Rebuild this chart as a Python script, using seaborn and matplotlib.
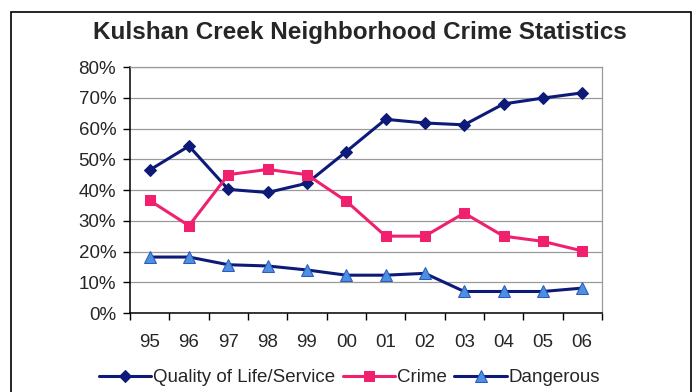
import matplotlib
matplotlib.use("Agg")
import matplotlib.pyplot as plt
import seaborn as sns
import pandas as pd
from matplotlib.patches import Rectangle
from matplotlib.ticker import FixedLocator, PercentFormatter

years = ["95", "96", "97", "98", "99", "00", "01", "02", "03", "04", "05", "06"]
quality = [46.5, 54.3, 40.2, 39.2, 42.2, 52.5, 63.0, 61.8, 61.2, 68.0, 69.9, 71.6]
crime = [36.6, 28.4, 45.0, 46.7, 45.0, 36.4, 25.0, 25.0, 32.5, 25.0, 23.3, 20.2]
dangerous = [18.2, 18.2, 15.7, 15.3, 14.0, 12.3, 12.3, 12.9, 7.0, 7.0, 7.0, 8.1]
series_names = ["Quality of Life/Service", "Crime", "Dangerous"]
title = "Kulshan Creek Neighborhood Crime Statistics"

df = pd.DataFrame({
    "year": years * 3,
    "value": quality + crime + dangerous,
    "series": [series_names[0]] * 12 + [series_names[1]] * 12 + [series_names[2]] * 12,
})

sns.set_style("white")
plt.rcParams["font.family"] = ["Liberation Sans", "DejaVu Sans"]

fig = plt.figure(figsize=(6.99, 3.92), dpi=100)
ax = fig.add_axes([0.186, 0.2015, 0.675, 0.6275])

navy = "#0d1a78"
pink = "#f0206e"
lightblue = "#4d8fe0"

styles = {
    series_names[0]: dict(color=navy, marker="D", mfc=navy, mec=navy, ms=6),
    series_names[1]: dict(color=pink, marker="s", mfc=pink, mec=pink, ms=7),
    series_names[2]: dict(color=navy, marker="^", mfc=lightblue, mec="#2a5bc0", ms=8),
}

for name in series_names:
    st = styles[name]
    sub = df[df["series"] == name]
    sns.lineplot(data=sub, x="year", y="value", ax=ax, color=st["color"],
                 marker=st["marker"], markerfacecolor=st["mfc"],
                 markeredgecolor=st["mec"], markersize=st["ms"],
                 linewidth=2.2, label=name, sort=False)

ax.set_xlim(-0.5, len(years) - 0.5)
ax.set_ylim(0, 80)
ax.yaxis.set_major_locator(FixedLocator(range(0, 81, 10)))
ax.yaxis.set_major_formatter(PercentFormatter(decimals=0))
ax.grid(axis="y", color="#9a9a9a", linewidth=0.9)
ax.set_axisbelow(True)
ax.set_xlabel("")
ax.set_ylabel("")

ax.xaxis.set_minor_locator(FixedLocator([i + 0.5 for i in range(-1, len(years))]))
ax.tick_params(axis="x", which="major", length=0, pad=15, labelsize=13.5)
ax.tick_params(axis="x", which="minor", length=5, width=1, color="black", direction="out",
               bottom=True)
ax.tick_params(axis="y", which="major", length=5, width=1, color="black", direction="out",
               pad=5, labelsize=13.5, left=True)

for s in ["left", "bottom"]:
    ax.spines[s].set_color("black")
    ax.spines[s].set_linewidth(1.1)
for s in ["top", "right"]:
    ax.spines[s].set_color("#9a9a9a")
    ax.spines[s].set_linewidth(0.9)

ax.get_legend().remove()
handles, labels = ax.get_legend_handles_labels()
fig.legend(handles, labels, loc="center", bbox_to_anchor=(0.5, 0.036), ncol=3,
           frameon=False, fontsize=13.5, handlelength=2.8, handletextpad=0.1,
           columnspacing=0.4)

fig.text(0.515, 0.918, title, ha="center", va="center", fontsize=17.5, fontweight="bold")

fig.patches.append(Rectangle((11 / 699, -0.05), 680 / 699, (392 - 12) / 392 + 0.05,
                             transform=fig.transFigure, fill=False, edgecolor="black",
                             linewidth=1.2))

fig.savefig("out.png", dpi=100)
